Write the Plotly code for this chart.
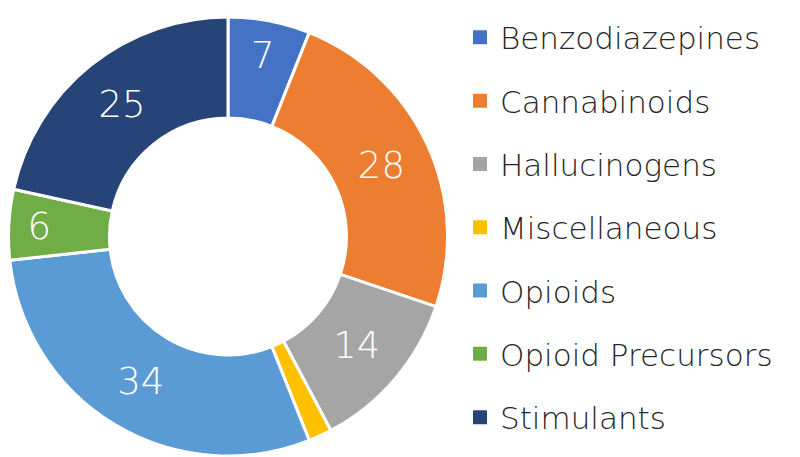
import plotly.graph_objects as go

categories = ["Benzodiazepines", "Cannabinoids", "Hallucinogens", "Miscellaneous",
              "Opioids", "Opioid Precursors", "Stimulants"]
values = [7, 28, 14, 2, 34, 6, 25]
colors = ["#4472C4", "#ED7D31", "#A5A5A5", "#FFC000", "#5B9BD5", "#70AD47", "#264478"]

# small slice has no label in the original
labels_txt = [str(v) if v > 2 else "" for v in values]

fnt = "DejaVu Sans"

fig = go.Figure()
fig.add_trace(go.Pie(
    labels=categories, values=values, text=labels_txt,
    textinfo="text", textposition="inside", insidetextorientation="horizontal",
    sort=False, direction="clockwise", rotation=0, hole=0.54,
    marker=dict(colors=colors, line=dict(color="white", width=3)),
    textfont=dict(family=fnt, size=37, color="white", weight=300),
    domain=dict(x=[0.0, 0.55], y=[0, 1]),
    showlegend=False, hoverinfo="label+value",
))

# legend built from empty scatter traces so the row spacing can be controlled
for i, (c, col) in enumerate(zip(categories, colors)):
    fig.add_trace(go.Scatter(
        x=[None], y=[None], mode="markers", name=c, legendgroup=str(i),
        marker=dict(symbol="square", size=14, color=col),
    ))

fig.update_layout(
    width=800, height=457,
    margin=dict(l=0, r=0, t=9, b=9),
    paper_bgcolor="white", plot_bgcolor="white",
    xaxis=dict(visible=False), yaxis=dict(visible=False),
    legend=dict(x=0.565, y=0.52, xanchor="left", yanchor="middle",
                font=dict(family=fnt, size=31, color="#262626", weight=300),
                tracegroupgap=20, itemwidth=30),
    font=dict(family=fnt),
)

fig.write_html("out.html")
